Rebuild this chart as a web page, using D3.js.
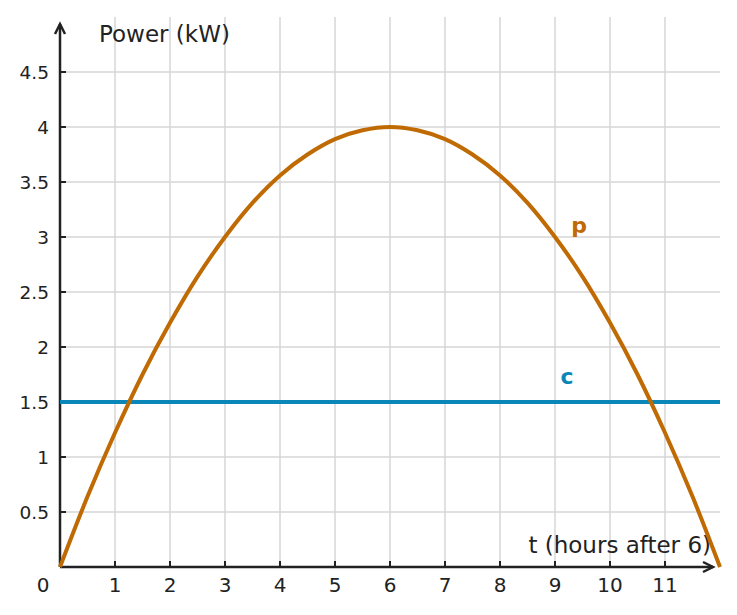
<!DOCTYPE html>
<html>
<head>
<meta charset="utf-8">
<script src="https://cdn.jsdelivr.net/npm/d3@7"></script>
<style>
  body { margin: 0; background: #fff; }
  text { font-family: "DejaVu Sans", sans-serif; fill: #222; }
</style>
</head>
<body>
<div id="chart"></div>
<script>
// Data
const tValues = [0, 0.5, 1, 1.5, 2, 2.5, 3, 3.5, 4, 4.5, 5, 5.5, 6, 6.5, 7, 7.5, 8, 8.5, 9, 9.5, 10, 10.5, 11, 11.5, 12];
const pValues = [0, 0.64, 1.22, 1.75, 2.22, 2.64, 3, 3.31, 3.56, 3.75, 3.89, 3.97, 4, 3.97, 3.89, 3.75, 3.56, 3.31, 3, 2.64, 2.22, 1.75, 1.22, 0.64, 0];
const cValue = 1.5;
const xTicks = [1, 2, 3, 4, 5, 6, 7, 8, 9, 10, 11];
const yTicks = [0.5, 1, 1.5, 2, 2.5, 3, 3.5, 4, 4.5];

const W = 737, H = 615;
const orange = '#bf6a02';
const blue = '#0a86b8';

const svg = d3.select('#chart').append('svg')
    .attr('width', W)
    .attr('height', H);

const x = d3.scaleLinear().domain([0, 12]).range([60, 720]);
const y = d3.scaleLinear().domain([0, 4.5]).range([567, 72]);

// Grid
svg.append('g')
    .selectAll('line')
    .data(xTicks)
    .join('line')
    .attr('x1', d => x(d)).attr('x2', d => x(d))
    .attr('y1', 17).attr('y2', y(0))
    .attr('stroke', '#d6d6d6').attr('stroke-width', 1.5);

svg.append('g')
    .selectAll('line')
    .data(yTicks)
    .join('line')
    .attr('x1', x(0)).attr('x2', x(12))
    .attr('y1', d => y(d)).attr('y2', d => y(d))
    .attr('stroke', '#d6d6d6').attr('stroke-width', 1.5);

// Axes
const axisColor = '#222';
svg.append('line')
    .attr('x1', x(0)).attr('x2', x(0))
    .attr('y1', y(0)).attr('y2', 24)
    .attr('stroke', axisColor).attr('stroke-width', 2.5);
svg.append('path')
    .attr('d', `M${x(0) - 5},${34} L${x(0)},${24} L${x(0) + 5},${34}`)
    .attr('fill', 'none').attr('stroke', axisColor).attr('stroke-width', 2.5);

svg.append('line')
    .attr('x1', x(0)).attr('x2', 713)
    .attr('y1', y(0)).attr('y2', y(0))
    .attr('stroke', axisColor).attr('stroke-width', 2.5);
svg.append('path')
    .attr('d', `M${703},${y(0) - 5} L${713},${y(0)} L${703},${y(0) + 5}`)
    .attr('fill', 'none').attr('stroke', axisColor).attr('stroke-width', 2.5);

// Ticks
svg.append('g')
    .selectAll('line')
    .data(xTicks)
    .join('line')
    .attr('x1', d => x(d)).attr('x2', d => x(d))
    .attr('y1', y(0)).attr('y2', y(0) - 6)
    .attr('stroke', axisColor).attr('stroke-width', 2);
svg.append('g')
    .selectAll('line')
    .data(yTicks)
    .join('line')
    .attr('x1', x(0)).attr('x2', x(0) + 6)
    .attr('y1', d => y(d)).attr('y2', d => y(d))
    .attr('stroke', axisColor).attr('stroke-width', 2);

// Tick labels
svg.append('g')
    .selectAll('text')
    .data(xTicks)
    .join('text')
    .attr('x', d => x(d))
    .attr('y', 592)
    .attr('text-anchor', 'middle')
    .style('font-size', '20px')
    .text(d => d);
svg.append('g')
    .selectAll('text')
    .data(yTicks)
    .join('text')
    .attr('x', 49)
    .attr('y', d => y(d) + 6.5)
    .attr('text-anchor', 'end')
    .style('font-size', '18.5px')
    .text(d => d);
svg.append('text')
    .attr('x', 43).attr('y', 592)
    .attr('text-anchor', 'middle')
    .style('font-size', '20px')
    .text('0');

// Axis titles
svg.append('text')
    .attr('x', 99).attr('y', 42)
    .style('font-size', '23px')
    .text('Power (kW)');
svg.append('text')
    .attr('x', 711).attr('y', 553)
    .attr('text-anchor', 'end')
    .style('font-size', '23px')
    .text('t (hours after 6)');

// Series
const pData = tValues.map((t, i) => [t, pValues[i]]);
const line = d3.line()
    .x(d => x(d[0]))
    .y(d => y(d[1]))
    .curve(d3.curveCatmullRom);

svg.append('line')
    .attr('x1', x(0)).attr('x2', x(12))
    .attr('y1', y(cValue)).attr('y2', y(cValue))
    .attr('stroke', blue).attr('stroke-width', 4);

svg.append('path')
    .datum(pData)
    .attr('d', line)
    .attr('fill', 'none')
    .attr('stroke', orange)
    .attr('stroke-width', 4);

// Series labels
svg.append('text')
    .attr('x', 579).attr('y', 233)
    .attr('text-anchor', 'middle')
    .style('font-size', '22px').style('font-weight', 'bold')
    .style('fill', orange)
    .text('p');
svg.append('text')
    .attr('x', 567).attr('y', 384)
    .attr('text-anchor', 'middle')
    .style('font-size', '22px').style('font-weight', 'bold')
    .style('fill', blue)
    .text('c');
</script>
</body>
</html>
